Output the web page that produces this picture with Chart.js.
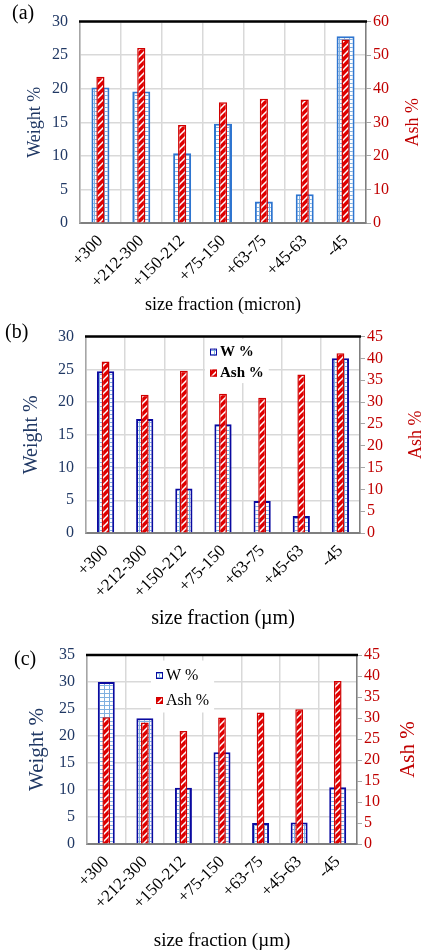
<!DOCTYPE html>
<html>
<head>
<meta charset="utf-8">
<script src="https://cdn.jsdelivr.net/npm/chart.js@4.4.1/dist/chart.umd.min.js"></script>
<style>
  body { margin: 0; background: #fff; }
  .panel { position: relative; width: 422px; }
</style>
</head>
<body>
<div class="panel" style="height:315px"><canvas id="chartA"></canvas></div>
<div class="panel" style="height:315px"><canvas id="chartB"></canvas></div>
<div class="panel" style="height:321px"><canvas id="chartC"></canvas></div>
<script>
const sizeFractions = ['+300', '+212-300', '+150-212', '+75-150', '+63-75', '+45-63', '-45'];

const weightA = [20.2, 19.6, 10.4, 14.8, 3.2, 4.3, 27.8];
const ashA = [43.6, 52.1, 29.2, 36.0, 37.0, 36.8, 54.7];

const weightB = [24.7, 17.4, 6.8, 16.6, 4.9, 2.6, 26.7];
const ashB = [39.3, 31.7, 37.2, 31.9, 31.0, 36.3, 41.2];

const weightC = [30.0, 23.3, 10.4, 17.0, 3.9, 4.0, 10.5];
const ashC = [30.2, 28.9, 26.9, 30.1, 31.3, 32.1, 38.8];

const SERIF = "'Liberation Serif', 'Times New Roman', serif";
const NAVY = '#203864';
const DARK_RED = '#C00000';

// small blue grid fill for the weight bars
const gridPattern = () => {
    const c = document.createElement('canvas');
    c.width = 5; c.height = 4;
    const g = c.getContext('2d');
    g.fillStyle = '#fff';
    g.fillRect(0, 0, 5, 4);
    g.fillStyle = '#7FB0E0';
    g.fillRect(0, 3, 5, 1);
    g.fillRect(4, 0, 1, 4);
    return g.createPattern(c, 'repeat');
};

// red bars with white diagonal stripes
const stripePattern = () => {
    const c = document.createElement('canvas');
    c.width = 7; c.height = 7;
    const g = c.getContext('2d');
    g.fillStyle = '#E00000';
    g.fillRect(0, 0, 7, 7);
    g.strokeStyle = '#fff';
    g.lineWidth = 1.5;
    g.beginPath();
    g.moveTo(-1, 8); g.lineTo(8, -1);
    g.moveTo(-1, 1); g.lineTo(1, -1);
    g.moveTo(6, 8); g.lineTo(8, 6);
    g.stroke();
    return g.createPattern(c, 'repeat');
};

const panelDeco = {
    id: 'panelDeco',
    afterDraw(chart, args, opts) {
        const { ctx, chartArea } = chart;
        ctx.save();

        // black frame line on top of the plot area
        ctx.strokeStyle = '#000';
        ctx.lineWidth = 2.5;
        ctx.beginPath();
        ctx.moveTo(chartArea.left - 1, chartArea.top);
        ctx.lineTo(chartArea.right + 1, chartArea.top);
        ctx.stroke();

        // panel letter
        ctx.fillStyle = '#000';
        ctx.font = `20px ${SERIF}`;
        ctx.textBaseline = 'middle';
        ctx.textAlign = 'left';
        ctx.fillText(opts.letter, opts.letterX, opts.letterY);

        // right axis title, reading bottom to top
        ctx.save();
        ctx.translate(opts.ashTitleX, (chartArea.top + chartArea.bottom) / 2);
        ctx.rotate(-Math.PI / 2);
        ctx.fillStyle = DARK_RED;
        ctx.font = `${opts.ashTitleSize}px ${SERIF}`;
        ctx.textAlign = 'center';
        ctx.fillText('Ash %', 0, 0);
        ctx.restore();

        // legend inside the plot area
        if (opts.legend) {
            const lg = opts.legend;
            const x0 = chartArea.left + lg.dx;
            const y0 = chartArea.top + lg.dy;
            ctx.font = `${lg.bold ? 'bold ' : ''}${lg.size}px ${SERIF}`;
            const items = chart.data.datasets;
            const textW = Math.max(...items.map(d => ctx.measureText(d.label).width));
            ctx.fillStyle = '#fff';
            ctx.fillRect(x0 - 5, y0 - lg.gap / 2 - 2, textW + 20, lg.gap * items.length + 2);
            items.forEach((d, i) => {
                const y = y0 + i * lg.gap;
                ctx.fillStyle = d.backgroundColor;
                ctx.fillRect(x0, y - 3, 7, 7);
                ctx.strokeStyle = d.borderColor;
                ctx.lineWidth = 1;
                ctx.strokeRect(x0 + 0.5, y - 2.5, 6, 6);
                ctx.fillStyle = '#000';
                ctx.textAlign = 'left';
                ctx.fillText(d.label, x0 + 10, y + 1);
            });
        }
        ctx.restore();
    }
};

const buildPanel = (canvasId, weight, ash, p) => {
    const ctx = document.getElementById(canvasId).getContext('2d');
    return new Chart(ctx, {
        type: 'bar',
        data: {
            labels: sizeFractions,
            datasets: [{
                label: 'W %',
                data: weight,
                yAxisID: 'yW',
                backgroundColor: gridPattern(),
                borderColor: p.weightBorder,
                borderWidth: 2,
                barPercentage: 0.44,
                categoryPercentage: 1,
                grouped: false,
                order: 1
            }, {
                label: 'Ash %',
                data: ash,
                yAxisID: 'yA',
                backgroundColor: stripePattern(),
                borderColor: '#D00000',
                borderWidth: 1.5,
                barPercentage: 0.2,
                categoryPercentage: 1,
                grouped: false,
                order: 0
            }]
        },
        options: {
            responsive: true,
            maintainAspectRatio: false,
            animation: false,
            layout: { padding: { top: p.top, left: 0, right: 0, bottom: 0 } },
            plugins: {
                legend: { display: false },
                tooltip: { enabled: false },
                panelDeco: p.deco
            },
            scales: {
                x: {
                    afterFit: (s) => { s.height = p.xHeight; },
                    grid: { color: '#D9D9D9', lineWidth: 1.5, drawTicks: false },
                    border: { color: '#7F7F7F', width: 2 },
                    ticks: {
                        color: '#000',
                        font: { family: SERIF, size: 17 },
                        minRotation: 45,
                        maxRotation: 45,
                        autoSkip: false,
                        padding: 8
                    },
                    title: {
                        display: true,
                        text: p.xTitle,
                        color: '#000',
                        font: { family: SERIF, size: p.xTitleSize, lineHeight: 1.1 },
                        padding: 0
                    }
                },
                yW: {
                    position: 'left',
                    min: 0,
                    max: p.wMax,
                    afterFit: (s) => { s.width = p.leftWidth; },
                    grid: { color: '#D9D9D9', lineWidth: 1.5, drawTicks: false },
                    border: { color: '#A6A6A6', width: 1.5 },
                    ticks: { stepSize: 5, autoSkip: false, color: NAVY, padding: 12, font: { family: SERIF, size: 16 } },
                    title: {
                        display: true,
                        text: 'Weight %',
                        color: NAVY,
                        font: { family: SERIF, size: p.wTitleSize, lineHeight: 1.2 },
                        padding: p.wTitlePad
                    }
                },
                yA: {
                    position: 'right',
                    min: 0,
                    max: p.aMax,
                    afterFit: (s) => { s.width = p.rightWidth; },
                    grid: { drawOnChartArea: false, color: '#A6A6A6', tickLength: 5 },
                    border: { color: '#7F7F7F', width: 1.5 },
                    ticks: { stepSize: p.aStep, autoSkip: false, color: DARK_RED, padding: 2, font: { family: SERIF, size: 16 } }
                }
            }
        },
        plugins: [panelDeco]
    });
};

buildPanel('chartA', weightA, ashA, {
    top: 17, xHeight: 92, leftWidth: 80, rightWidth: 56,
    wMax: 30, aMax: 60, aStep: 10,
    weightBorder: '#2E75D0',
    xTitle: 'size fraction (micron)', xTitleSize: 18,
    wTitleSize: 18, wTitlePad: 24,
    deco: { letter: '(a)', letterX: 12, letterY: 14, ashTitleX: 413, ashTitleSize: 18, legend: null }
});

buildPanel('chartB', weightB, ashB, {
    top: 20, xHeight: 97, leftWidth: 86, rightWidth: 62,
    wMax: 30, aMax: 45, aStep: 5,
    weightBorder: '#0A0AA0',
    xTitle: 'size fraction (\u00b5m)', xTitleSize: 20,
    wTitleSize: 20, wTitlePad: 20,
    deco: { letter: '(b)', letterX: 5, letterY: 18, ashTitleX: 416, ashTitleSize: 18,
            legend: { dx: 124, dy: 15, gap: 21, size: 15, bold: true } }
});

buildPanel('chartC', weightC, ashC, {
    top: 25, xHeight: 107, leftWidth: 87, rightWidth: 65,
    wMax: 35, aMax: 45, aStep: 5,
    weightBorder: '#0A0AA0',
    xTitle: 'size fraction (\u00b5m)', xTitleSize: 19,
    wTitleSize: 21, wTitlePad: 25,
    deco: { letter: '(c)', letterX: 14, letterY: 30, ashTitleX: 408, ashTitleSize: 21,
            legend: { dx: 69, dy: 20, gap: 25, size: 16, bold: false } }
});
</script>
</body>
</html>
